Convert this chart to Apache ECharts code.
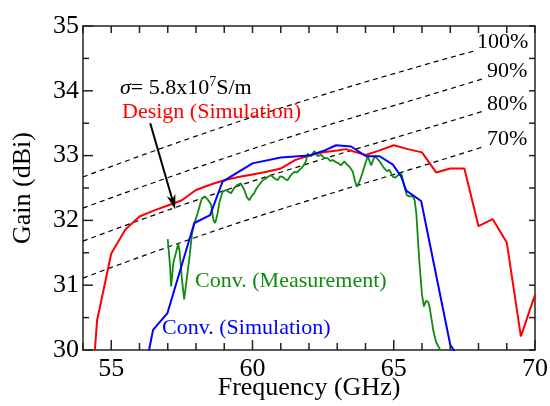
<!DOCTYPE html>
<html>
<head>
<meta charset="utf-8">
<script src="https://cdn.jsdelivr.net/npm/echarts@6/dist/echarts.min.js"></script>
<style>
  html, body { margin: 0; padding: 0; background: #fff; }
  #chart { width: 550px; height: 406px; }
</style>
</head>
<body>
<div id="chart"></div>
<script>
// tick values
var xTickLabels = [55, 60, 65, 70];
var xMinorTicks = [54, 56, 57, 58, 59, 61, 62, 63, 64, 66, 67, 68, 69];
var yTickLabels = [30, 31, 32, 33, 34, 35];
var yMinorTicks = [30.5, 31.5, 32.5, 33.5, 34.5];

// Design (Simulation) - red
var designFreq = [54.42, 54.5, 55.0, 55.5, 56.0, 56.5, 57.0, 57.5, 58.0, 58.5, 59.0, 59.5, 60.0, 60.5, 61.0, 61.5,
  62.0, 62.5, 63.0, 63.3, 64.0, 64.5, 65.0, 65.5, 66.0, 66.5, 67.0, 67.5, 68.0, 68.5, 69.0, 69.5, 70.0];
var designGain = [30.0, 30.46, 31.49, 31.86, 32.06, 32.15, 32.23, 32.31, 32.47, 32.55, 32.62, 32.67, 32.71, 32.75, 32.80, 32.93,
  33.0, 33.05, 33.08, 33.10, 33.01, 33.08, 33.16, 33.10, 33.05, 32.74, 32.80, 32.80, 31.91, 32.02, 31.66, 30.21, 30.85];

// Conv. (Simulation) - blue
var convSimFreq = [56.34, 56.48, 56.99, 57.94, 58.5, 58.94, 60.0, 61.0, 62.0, 62.5, 62.96, 63.49, 64.02, 64.5, 64.97, 65.27, 65.44, 65.97, 67.0, 67.15];
var convSimGain = [30.0, 30.31, 30.57, 31.96, 32.08, 32.60, 32.88, 32.97, 33.0, 33.07, 33.16, 33.14, 32.99, 32.99, 32.86, 32.67, 32.46, 32.30, 30.08, 29.98];

// Conv. (Measurement) - green
var convMeasFreq = [57.00, 57.08, 57.12, 57.20, 57.29, 57.37, 57.42, 57.50, 57.58, 57.66, 57.76, 57.86, 57.96, 58.05, 58.11, 58.20,
  58.30, 58.42, 58.53, 58.62, 58.68, 58.76, 58.84, 58.94, 59.05, 59.12, 59.24, 59.35, 59.47, 59.59, 59.70, 59.80,
  59.89, 59.98, 60.06, 60.15, 60.24, 60.36, 60.45, 60.54, 60.66, 60.77, 60.89, 60.98, 61.07, 61.15, 61.24, 61.36,
  61.48, 61.58, 61.66, 61.78, 61.89, 61.95, 62.07, 62.19, 62.31, 62.43, 62.55, 62.66, 62.75, 62.84, 62.95, 63.05,
  63.13, 63.25, 63.35, 63.43, 63.55, 63.62, 63.69, 63.79, 63.88, 63.96, 64.08, 64.20, 64.32, 64.42, 64.50, 64.59,
  64.67, 64.76, 64.85, 64.97, 65.06, 65.15, 65.27, 65.38, 65.46, 65.56, 65.68, 65.74, 65.80, 65.90, 66.00, 66.07,
  66.14, 66.22, 66.27, 66.40, 66.50, 66.60, 66.66];
var convMeasGain = [31.71, 31.30, 30.98, 31.35, 31.50, 31.64, 31.52, 31.10, 30.78, 31.05, 31.40, 31.80, 31.98, 32.10, 32.13, 32.33,
  32.37, 32.32, 32.25, 32.00, 31.96, 32.10, 32.30, 32.44, 32.47, 32.49, 32.42, 32.50, 32.55, 32.57, 32.48, 32.36,
  32.31, 32.38, 32.42, 32.50, 32.55, 32.62, 32.64, 32.67, 32.70, 32.65, 32.62, 32.68, 32.67, 32.64, 32.62, 32.70,
  32.75, 32.74, 32.78, 32.83, 32.91, 33.03, 32.99, 33.07, 32.99, 33.01, 32.96, 32.96, 32.92, 32.93, 32.90, 32.88,
  32.85, 32.91, 32.86, 32.83, 32.75, 32.62, 32.52, 32.60, 32.72, 32.83, 32.99, 32.85, 32.99, 32.95, 32.91, 32.85,
  32.80, 32.76, 32.78, 32.67, 32.66, 32.70, 32.72, 32.52, 32.39, 32.37, 32.37, 32.31, 32.10, 31.40, 30.85, 30.67,
  30.76, 30.74, 30.66, 30.30, 30.12, 30.04, 29.98];

// aperture efficiency reference lines (dashed)
var effNames = ['100%', '90%', '80%', '70%'];
var effFreq = [[54, 58, 62, 66, 67.9], [54, 58, 62, 66, 68.2], [54, 58, 62, 66, 68.2], [54, 58, 62, 66, 68.2]];
var effGain = [
  [32.67, 33.30, 33.87, 34.39, 34.62],
  [32.19, 32.81, 33.38, 33.90, 34.19],
  [31.68, 32.31, 32.88, 33.40, 33.69],
  [31.11, 31.74, 32.31, 32.84, 33.14]
];

// arrow from the conductivity note to the red curve
var arrowFrom = [56.38, 33.50];
var arrowTo = [57.19, 32.28];

var X_MIN = 54, X_MAX = 70, Y_MIN = 30, Y_MAX = 35;

function pairs(xs, ys) {
  return xs.map(function (x, i) { return [x, ys[i]]; });
}

var FONT = "'Liberation Serif', 'DejaVu Serif', serif";
var axisLineStyle = { color: '#222', width: 1.5 };

var chart = echarts.init(document.getElementById('chart'));

var series = [];
effNames.forEach(function (name, k) {
  series.push({
    name: name,
    type: 'line',
    data: pairs(effFreq[k], effGain[k]),
    showSymbol: false,
    smooth: true,
    lineStyle: { color: '#000', width: 1.2, type: [5, 4] },
    z: 2
  });
});
series.push({
  name: 'Design (Simulation)',
  type: 'line',
  data: pairs(designFreq, designGain),
  showSymbol: false,
  lineStyle: { color: '#ff0000', width: 2 },
  z: 3
});
series.push({
  name: 'Conv. (Measurement)',
  type: 'line',
  data: pairs(convMeasFreq, convMeasGain),
  showSymbol: false,
  lineStyle: { color: '#118a11', width: 1.8 },
  z: 4
});
series.push({
  name: 'Conv. (Simulation)',
  type: 'line',
  data: pairs(convSimFreq, convSimGain),
  showSymbol: false,
  lineStyle: { color: '#0000ff', width: 2 },
  z: 5
});
series.push({
  name: 'arrow',
  type: 'line',
  data: [],
  markLine: {
    silent: true,
    symbol: ['none', 'path://M5,0 L10,16 L5,11 L0,16 Z'],
    symbolSize: [9, 15],
    label: { show: false },
    lineStyle: { color: '#000', width: 2, type: 'solid' },
    data: [[{ coord: arrowFrom }, { coord: arrowTo }]]
  },
  z: 6
});

function frameAxis(pos, min, max) {
  return {
    type: 'value', min: min, max: max, position: pos,
    axisLine: { show: true, onZero: false, lineStyle: axisLineStyle },
    axisTick: { show: false },
    axisLabel: { show: false },
    splitLine: { show: false }
  };
}

var xMain = frameAxis('bottom', X_MIN, X_MAX);
xMain.axisLabel = { show: true, customValues: xTickLabels, color: '#000', fontSize: 26, fontFamily: FONT, margin: 6 };
xMain.name = 'Frequency (GHz)';
xMain.nameLocation = 'middle';
xMain.nameGap = 25;
xMain.nameMoveOverlap = false;
xMain.nameTextStyle = { color: '#000', fontSize: 26, fontFamily: FONT };

var yMain = frameAxis('left', Y_MIN, Y_MAX);
yMain.axisLabel = { show: true, customValues: yTickLabels, color: '#000', fontSize: 26, fontFamily: FONT, margin: 4 };
yMain.name = 'Gain (dBi)';
yMain.nameLocation = 'middle';
yMain.nameGap = 47;
yMain.nameMoveOverlap = false;
yMain.nameTextStyle = { color: '#000', fontSize: 26, fontFamily: FONT };

var texts = [
  {
    type: 'text', x: 120, y: 88, z: 100,
    style: {
      text: '{i|σ}= 5.8x10{s|7}S/m',
      fill: '#000', font: '22px ' + FONT, verticalAlign: 'middle',
      rich: {
        i: { fontStyle: 'italic', fontSize: 22, fontFamily: FONT },
        s: { fontSize: 14, fontFamily: FONT, verticalAlign: 'top', lineHeight: 26 }
      }
    }
  },
  { type: 'text', x: 122, y: 112, z: 100, style: { text: 'Design (Simulation)', fill: '#ff0000', font: '22px ' + FONT, verticalAlign: 'middle' } },
  { type: 'text', x: 195, y: 281, z: 100, style: { text: 'Conv. (Measurement)', fill: '#118a11', font: '22px ' + FONT, verticalAlign: 'middle' } },
  { type: 'text', x: 162, y: 328, z: 100, style: { text: 'Conv. (Simulation)', fill: '#0000ff', font: '22px ' + FONT, verticalAlign: 'middle' } },
  { type: 'text', x: 477, y: 42, z: 100, style: { text: effNames[0], fill: '#000', font: '22px ' + FONT, verticalAlign: 'middle' } },
  { type: 'text', x: 487, y: 71, z: 100, style: { text: effNames[1], fill: '#000', font: '22px ' + FONT, verticalAlign: 'middle' } },
  { type: 'text', x: 487, y: 104, z: 100, style: { text: effNames[2], fill: '#000', font: '22px ' + FONT, verticalAlign: 'middle' } },
  { type: 'text', x: 487, y: 139, z: 100, style: { text: effNames[3], fill: '#000', font: '22px ' + FONT, verticalAlign: 'middle' } }
];

chart.setOption({
  animation: false,
  backgroundColor: '#fff',
  grid: { left: 83, right: 15, top: 26, bottom: 56, containLabel: false, outerBoundsMode: 'none' },
  xAxis: [xMain, frameAxis('top', X_MIN, X_MAX)],
  yAxis: [yMain, frameAxis('right', Y_MIN, Y_MAX)],
  series: series,
  graphic: texts
});

// inside ticks on all four sides, placed through the grid's own scales
var tickEls = [];
var tickStyle = { stroke: '#222', lineWidth: 1.5 };
function px(v) { return chart.convertToPixel({ gridIndex: 0 }, v); }
function addXTick(v, len) {
  var a = px([v, Y_MIN]), b = px([v, Y_MAX]);
  tickEls.push({ type: 'line', z: 90, shape: { x1: a[0], y1: a[1], x2: a[0], y2: a[1] - len }, style: tickStyle });
  tickEls.push({ type: 'line', z: 90, shape: { x1: b[0], y1: b[1], x2: b[0], y2: b[1] + 7 }, style: tickStyle });
}
function addYTick(v, len) {
  var a = px([X_MIN, v]), b = px([X_MAX, v]);
  tickEls.push({ type: 'line', z: 90, shape: { x1: a[0], y1: a[1], x2: a[0] + len, y2: a[1] }, style: tickStyle });
  tickEls.push({ type: 'line', z: 90, shape: { x1: b[0], y1: b[1], x2: b[0] - 6, y2: b[1] }, style: tickStyle });
}
xTickLabels.forEach(function (v) { addXTick(v, 10); });
xMinorTicks.forEach(function (v) { addXTick(v, 7); });
yTickLabels.forEach(function (v) { addYTick(v, 10); });
yMinorTicks.forEach(function (v) { addYTick(v, 6); });

chart.setOption({ graphic: texts.concat(tickEls) });
</script>
</body>
</html>
